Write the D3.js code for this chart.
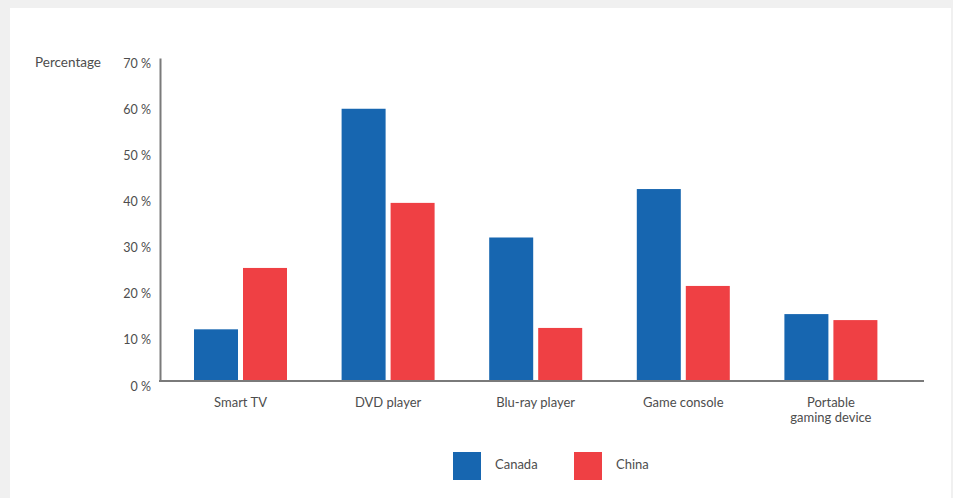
<!DOCTYPE html>
<html>
<head>
<meta charset="utf-8">
<script src="https://cdn.jsdelivr.net/npm/d3@7"></script>
<style>
html,body{margin:0;padding:0;background:#f0f0f0;}
svg{display:block;}
text{font-family:Lato,"Open Sans",sans-serif;fill:#4d4d4d;}
</style>
</head>
<body>
<svg id="chart" width="953" height="498"></svg>
<script>
const categories = ["Smart TV", "DVD player", "Blu-ray player", "Game console", "Portable\ngaming device"];
const seriesNames = ["Canada", "China"];
const canadaValues = [11.2, 59.0, 31.1, 41.6, 14.5];
const chinaValues = [24.5, 38.6, 11.5, 20.6, 13.2];
const yTicks = [0, 10, 20, 30, 40, 50, 60, 70];
const colors = ["#1766b0", "#ef4044"];

const svg = d3.select("#chart");
svg.append("rect").attr("x", 10).attr("y", 8).attr("width", 941).attr("height", 490).attr("fill", "#ffffff");

const y = d3.scaleLinear().domain([0, 70]).range([381, 58]);
const x0 = d3.scaleBand().domain(categories).range([166.7, 904.7]).padding(0);
const x1 = d3.scaleBand().domain(seriesNames).range([-46.5, 46.5]).paddingInner(0.102).paddingOuter(0);
const color = d3.scaleOrdinal().domain(seriesNames).range(colors);

const data = categories.map((c, i) => ({cat: c, values: [
  {name: "Canada", value: canadaValues[i]},
  {name: "China", value: chinaValues[i]}
]}));

// bars
const groups = svg.append("g").selectAll("g").data(data).join("g")
  .attr("transform", d => `translate(${x0(d.cat) + x0.bandwidth() / 2},0)`);
groups.selectAll("rect").data(d => d.values).join("rect")
  .attr("x", d => x1(d.name))
  .attr("width", x1.bandwidth())
  .attr("y", d => y(d.value))
  .attr("height", d => y(0) - y(d.value))
  .attr("fill", d => color(d.name));

// y axis
const yAxis = d3.axisLeft(y).tickValues(yTicks).tickSize(0).tickPadding(9).tickFormat(d => d + " %");
const gy = svg.append("g").attr("transform", "translate(160,0)").call(yAxis);
gy.select(".domain").attr("stroke", "#7a7a7a").attr("stroke-width", 2);
gy.selectAll(".tick text").attr("font-size", 12.5).attr("dy", "0.72em").attr("fill", "#4d4d4d")
  .style("font-family", "Lato, sans-serif");

// x axis baseline
svg.append("line").attr("x1", 159).attr("x2", 924).attr("y1", y(0)).attr("y2", y(0))
  .attr("stroke", "#7a7a7a").attr("stroke-width", 2);

// category labels
const xl = svg.append("g");
categories.forEach(c => {
  const lines = c.split("\n");
  const t = xl.append("text").attr("text-anchor", "middle").attr("font-size", 13)
    .attr("x", x0(c) + x0.bandwidth() / 2).attr("y", 407);
  lines.forEach((ln, j) => {
    t.append("tspan").attr("x", x0(c) + x0.bandwidth() / 2).attr("dy", j === 0 ? 0 : 15).text(ln);
  });
});

// y title
svg.append("text").attr("x", 35).attr("y", 67).attr("font-size", 13.5).text("Percentage");

// legend
const legendX = [453, 574];
seriesNames.forEach((s, i) => {
  svg.append("rect").attr("x", legendX[i]).attr("y", 452).attr("width", 28).attr("height", 28).attr("fill", color(s));
  svg.append("text").attr("x", legendX[i] + 42).attr("y", 469).attr("font-size", 13).text(s);
});
</script>
</body>
</html>
